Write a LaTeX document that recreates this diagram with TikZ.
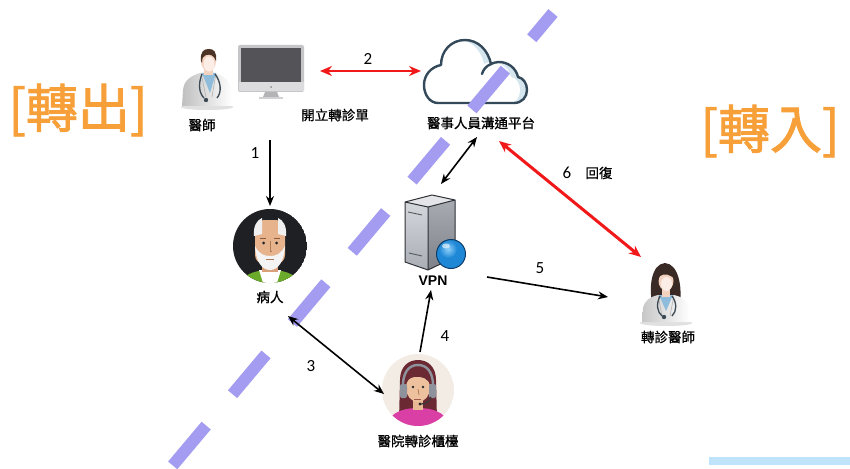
\documentclass[tikz,border=0pt]{standalone}
\usepackage{fontspec}
\newfontfamily\cjk{Noto Sans CJK TC}[FakeBold=0.9]
\newfontfamily\cjkside{Noto Sans CJK TC}[FakeBold=1.6]
\newfontfamily\numf{Carlito}
\newfontfamily\latf{Liberation Sans}
\usetikzlibrary{arrows.meta,calc}
\definecolor{orng}{HTML}{F7A03A}
\definecolor{lav}{HTML}{A39CF0}
\definecolor{arrred}{HTML}{F01818}
\definecolor{skin}{HTML}{F3D2BF}
\definecolor{skinlt}{HTML}{FCEDE6}
\definecolor{cloudln}{HTML}{34495A}
\definecolor{cloudsh}{HTML}{D5E6EE}
\definecolor{strip}{HTML}{BEE3FA}
\definecolor{scrub}{HTML}{8FBCDA}
\definecolor{hairM}{HTML}{4B3326}
\definecolor{hairF}{HTML}{3A2A25}
\definecolor{steth}{HTML}{3C4A55}
\definecolor{monframe}{HTML}{C6C6C8}
\definecolor{monscreen}{HTML}{535358}
\definecolor{monchin}{HTML}{DCDCDE}
\definecolor{monstand}{HTML}{B4B4B6}
\definecolor{monbase}{HTML}{D2D2D4}
\definecolor{srvtop}{HTML}{E3E5E8}
\definecolor{srvfrontA}{HTML}{D4D7DC}
\definecolor{srvfrontB}{HTML}{A9ADB4}
\definecolor{srvsideA}{HTML}{A8ACB2}
\definecolor{srvsideB}{HTML}{7E8288}
\definecolor{srvline}{HTML}{2E3136}
\definecolor{srvslot}{HTML}{555A60}
\definecolor{srvball}{HTML}{1E88D6}
\definecolor{srvballhi}{HTML}{8FD0FA}
\definecolor{srvballln}{HTML}{0E3C66}
\definecolor{patbg}{HTML}{1F2024}
\definecolor{patshirt}{HTML}{6BAA2A}
\definecolor{patneck}{HTML}{D9A07A}
\definecolor{patskin}{HTML}{E6B38D}
\definecolor{hairW}{HTML}{F0F0F0}
\definecolor{beard}{HTML}{F4F4F4}
\definecolor{brow}{HTML}{8A5A3C}
\definecolor{nose}{HTML}{B07A55}
\definecolor{ctbg}{HTML}{F2ECE4}
\definecolor{cthair}{HTML}{6B2A33}
\definecolor{ctshirt}{HTML}{D93FA4}
\definecolor{ctneck}{HTML}{E8B994}
\definecolor{ctskin}{HTML}{EEC19E}
\definecolor{headset}{HTML}{8E929C}
\definecolor{micarm}{HTML}{3A3A3A}
\definecolor{dark}{HTML}{2A2A2A}
\definecolor{lips}{HTML}{A0584A}
\tikzset{
  lbl/.style={font=\cjk\fontsize{13.5}{14}\selectfont, inner sep=0pt},
  num/.style={font=\numf\fontsize{17}{18}\selectfont, inner sep=0pt},
  side/.style={font=\cjkside\fontsize{52}{54}\selectfont, text=orng, inner sep=0pt},
  blkarrow/.style={draw=black, line width=1.6pt, >={Stealth[length=10pt,width=8pt]}},
  redarrow/.style={draw=arrred, line width=2.4pt, >={Stealth[length=12pt,width=10pt]}},
  divider/.style={draw=lav, line width=12pt, dash pattern=on 52pt off 41pt, dash phase=19pt}
}
\begin{document}
\begin{tikzpicture}[x=1pt,y=-1pt]
\useasboundingbox (0,0) rectangle (850,468);
\fill[white] (0,0) rectangle (850,468);

% ---------- side titles ----------
\node[side] (out) at (78,110) {[轉出]};
\node[side] (in) at (770,131) {[轉入]};

% ---------- doctor (sender) ----------
\fill[black!12] (207,107) ellipse (26 and 3);
\shade[left color=black!25, right color=white]
  (182,106) -- (183,90) .. controls (184,80) and (191,76) .. (200,73) -- (214,73)
  .. controls (224,76) and (230,80) .. (231,90) -- (232,106) -- cycle;
\fill[scrub] (202,73) -- (216,73) -- (210,93) -- cycle;
\draw[black!30, line width=0.6pt] (201,73) -- (206,97) (216,73) -- (212,97);
\fill[skin] (204,65) rectangle (213,75);
\fill[skin] (208.5,61) ellipse (7.5 and 10);
\fill[skinlt] (209,64) ellipse (5.5 and 7.5);
\fill[hairM] (201,61) .. controls (200,51) and (204,49) .. (209,49)
  .. controls (214,49) and (217,52) .. (216,61) .. controls (214,55) and (210,54) .. (206,55)
  .. controls (203,56) and (202,58) .. (202,63) -- cycle;
\draw[steth, line width=1.3pt] (202,74) .. controls (198,84) and (199,93) .. (204,98);
\draw[steth, line width=1.3pt] (215,74) .. controls (221,82) and (222,92) .. (217,98);
\fill[steth] (206,100) circle (2.2);
\node[lbl] (doc) at (202,125) {醫師};

% ---------- computer ----------
\fill[monframe, rounded corners=2pt] (238,45) rectangle (304,92);
\fill[monscreen] (241,48) rectangle (301,82);
\fill[monchin] (238.5,82) rectangle (303.5,91.5);
\fill[black!45] (271,87) circle (1);
\fill[monstand] (265,92) -- (277,92) -- (279,97) -- (263,97) -- cycle;
\fill[monbase] (259,97) rectangle (283,99);
\node[lbl] (form) at (335,115) {開立轉診單};

% ---------- cloud platform ----------
\begin{scope}
  \clip (438,103) -- (514,103) .. controls (522,103) and (527,97) .. (527,90)
    .. controls (527,83) and (523,78) .. (518,77) .. controls (516,68) and (508,62) .. (499,62)
    .. controls (496,62) and (493,63) .. (491,64) .. controls (488,50) and (478,40) .. (465,40)
    .. controls (451,40) and (441,51) .. (441,65) .. controls (431,67) and (424,75) .. (424,85)
    .. controls (424,95) and (430,103) .. (438,103) -- cycle;
  \fill[cloudsh] (420,35) rectangle (530,110);
  \fill[white] (432,104) -- (508,104) .. controls (516,104) and (520,97) .. (520,90)
    .. controls (520,83) and (516,78) .. (511,77) .. controls (509,68) and (501,62) .. (492,62)
    .. controls (489,62) and (486,63) .. (484,64) .. controls (481,50) and (471,40) .. (458,40)
    .. controls (444,40) and (434,51) .. (434,65) .. controls (424,67) and (417,75) .. (417,85)
    .. controls (417,95) and (423,104) .. (432,104) -- cycle;
\end{scope}
\draw[cloudln, line width=2.4pt, line join=round]
  (438,103) -- (514,103) .. controls (522,103) and (527,97) .. (527,90)
    .. controls (527,83) and (523,78) .. (518,77) .. controls (516,68) and (508,62) .. (499,62)
    .. controls (496,62) and (493,63) .. (491,64) .. controls (488,50) and (478,40) .. (465,40)
    .. controls (451,40) and (441,51) .. (441,65) .. controls (431,67) and (424,75) .. (424,85)
    .. controls (424,95) and (430,103) .. (438,103) -- cycle;
\draw[cloudln, line width=2.4pt, line cap=round] (491,64) .. controls (486,66) and (483,70) .. (482,74);
\node[lbl] (cloud) at (481,123) {醫事人員溝通平台};

% ---------- VPN server ----------
\fill[srvtop] (405,202) -- (432,195) -- (455,200) -- (428,207) -- cycle;
\shade[top color=srvfrontA, bottom color=srvfrontB] (405,202) -- (428,207) -- (428,270) -- (405,262) -- cycle;
\shade[top color=srvsideA, bottom color=srvsideB] (428,207) -- (455,200) -- (455,257) -- (428,270) -- cycle;
\draw[srvline, line width=1pt, line join=round]
  (405,202) -- (432,195) -- (455,200) -- (455,257) -- (428,270) -- (405,262) -- cycle
  (405,202) -- (428,207) -- (428,270) (428,207) -- (455,200);
\draw[srvslot, line width=0.9pt] (408,212) -- (422,215) (409,253) -- (422,256);
\fill[srvball] (451,254) circle (14.5);
\shade[inner color=srvballhi, outer color=srvball] (448,249) circle (9);
\fill[white, opacity=0.6] (446,246) ellipse (4 and 2.5);
\draw[srvballln, line width=1pt] (451,254) circle (14.5);
\node[font=\latf\bfseries\fontsize{14}{15}\selectfont, inner sep=0pt] (vpn) at (433,281) {VPN};

% ---------- patient ----------
\begin{scope}
  \clip (270,246) circle (37);
  \fill[patbg] (270,246) circle (37);
  \fill[patshirt] (236,290) .. controls (240,276) and (252,270) .. (270,270)
    .. controls (288,270) and (300,276) .. (304,290) -- cycle;
  \fill[white] (259,270) -- (281,270) -- (276,286) -- (264,286) -- cycle;
  \fill[patneck] (262,258) rectangle (278,272);
  \fill[patskin, rounded corners=9pt] (255,220) rectangle (285,264);
  \fill[hairW] (254,236) .. controls (253,226) and (257,220) .. (262,218) -- (262,234) -- cycle;
  \fill[hairW] (286,236) .. controls (287,226) and (283,220) .. (278,218) -- (278,234) -- cycle;
  \fill[beard] (255,246) .. controls (256,262) and (262,270) .. (270,270)
    .. controls (278,270) and (284,262) .. (285,246) .. controls (281,254) and (276,256) .. (270,256)
    .. controls (264,256) and (259,254) .. (255,246) -- cycle;
  \fill[patbg] (263.5,243) circle (1.5) (276.5,243) circle (1.5);
  \draw[brow, line width=1pt] (260,238) -- (266,238) (274,238) -- (280,238);
  \draw[nose, line width=0.9pt] (270,241) -- (270,251) -- (272,251);
  \draw[nose, line width=0.9pt] (266,259) -- (274,259);
\end{scope}
\node[lbl] (patient) at (270,297) {病人};

% ---------- referral counter ----------
\begin{scope}
  \clip (418,390) circle (36);
  \fill[ctbg] (418,390) circle (36);
  \fill[cthair] (399,420) -- (400,380) .. controls (400,367) and (408,360) .. (418,360)
    .. controls (428,360) and (436,367) .. (436,380) -- (437,420) -- cycle;
  \fill[ctshirt] (384,430) .. controls (388,414) and (400,408) .. (418,408)
    .. controls (436,408) and (448,414) .. (452,430) -- cycle;
  \fill[ctneck] (413,398) rectangle (423,410);
  \fill[ctskin] (418,388) ellipse (12 and 14);
  \fill[cthair] (405,386) .. controls (404,374) and (410,369) .. (418,369)
    .. controls (426,369) and (432,374) .. (431,386) .. controls (428,378) and (422,376) .. (414,377)
    .. controls (409,378) and (406,381) .. (405,386) -- cycle;
  \draw[headset, line width=2.4pt] (403,390) .. controls (402,372) and (409,365) .. (418,365)
    .. controls (427,365) and (434,372) .. (433,390);
  \fill[headset, rounded corners=2pt] (400,384) rectangle (407,398);
  \fill[headset, rounded corners=2pt] (429,384) rectangle (436,398);
  \draw[micarm, line width=1.2pt] (431,397) .. controls (429,403) and (425,404) .. (420,404);
  \fill[dark] (420,404) circle (1.6);
  \fill[dark] (413,387) circle (1.3) (423,387) circle (1.3);
  \draw[nose, line width=0.8pt] (418,389) -- (419,395);
  \draw[lips, line width=0.8pt] (414,399) -- (421,399);
\end{scope}
\node[lbl] (counter) at (418,441) {醫院轉診櫃檯};

% ---------- doctor (receiver) ----------
\fill[black!12] (666,323) ellipse (26 and 3);
\fill[hairF] (652,302) .. controls (649,288) and (651,264) .. (665,263)
  .. controls (679,264) and (682,288) .. (680,302) -- cycle;
\shade[left color=black!22, right color=white]
  (642,322) -- (643,308) .. controls (645,300) and (650,297) .. (658,295) -- (674,295)
  .. controls (682,297) and (687,300) .. (689,308) -- (690,322) -- cycle;
\fill[scrub] (659,295) -- (673,295) -- (666,311) -- cycle;
\draw[black!30, line width=0.6pt] (658,295) -- (662,316) (674,295) -- (670,316);
\fill[skin] (662,286) rectangle (670,297);
\fill[skin] (666,281) ellipse (7.5 and 9.5);
\fill[skinlt] (666.5,284) ellipse (5.5 and 7);
\fill[hairF] (657,283) .. controls (656,271) and (660,268) .. (666,268)
  .. controls (672,268) and (676,272) .. (675,280) .. controls (671,274) and (664,273) .. (660,276)
  .. controls (658,278) and (658,281) .. (658,285) -- cycle;
\draw[steth, line width=1.3pt] (660,296) .. controls (656,304) and (657,312) .. (662,316);
\draw[steth, line width=1.3pt] (672,296) .. controls (677,303) and (677,311) .. (672,316);
\fill[steth] (664,317) circle (2.2);
\node[lbl] (recv) at (668,337) {轉診醫師};

% ---------- dividing line ----------
\coordinate (divtop) at (553,13);
\coordinate (divbot) at (168,471);
\draw[divider] (divtop) -- (divbot);

% ---------- connector end points ----------
\coordinate (pcR) at (320,71);
\coordinate (clL) at (421,71);
\coordinate (docB) at (270,140);
\coordinate (patT) at (270,206);
\coordinate (clB) at (477,137);
\coordinate (vpT) at (441,184);
\coordinate (clR) at (499,141);
\coordinate (rdT) at (641,257);
\coordinate (vpR) at (487,277);
\coordinate (rdL) at (608,297);
\coordinate (ctT) at (420,352);
\coordinate (vpB) at (431,290);
\coordinate (patB) at (288,316);
\coordinate (ctL) at (384,394);

% ---------- connectors ----------
\draw[redarrow, <->] (pcR) -- (clL);
\draw[blkarrow, ->] (docB) -- (patT);
\draw[blkarrow, <->] (clB) -- (vpT);
\draw[redarrow, line width=3pt, <->] (clR) -- (rdT);
\draw[blkarrow, ->] (vpR) -- (rdL);
\draw[blkarrow, ->] (ctT) -- (vpB);
\draw[blkarrow, <->] (patB) -- (ctL);

% ---------- step numbers ----------
\node[num] (n1) at (255,153) {1};
\node[num] (n2) at (368,59) {2};
\node[num] (n3) at (311,366) {3};
\node[num] (n4) at (445,336) {4};
\node[num] (n5) at (540,268) {5};
\node[num] (n6) at (567,173) {6};
\node[lbl] (reply) at (599,173) {回復};

% ---------- footer strip ----------
\fill[strip] (709,457) rectangle (850,465);
\end{tikzpicture}
\end{document}
